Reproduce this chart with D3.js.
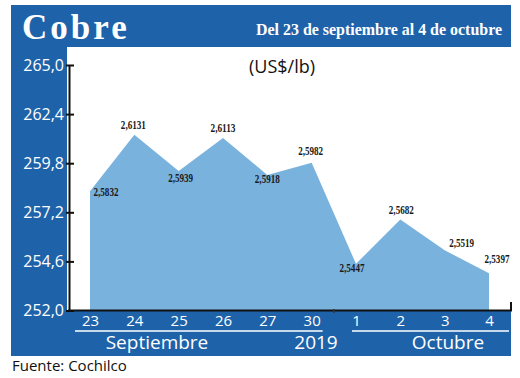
<!DOCTYPE html>
<html>
<head>
<meta charset="utf-8">
<script src="https://cdn.jsdelivr.net/npm/d3@7"></script>
<style>
	body { margin: 0; background: #fff; }
	svg { display: block; }
</style>
</head>
<body>
<svg id="chart" width="520" height="378"></svg>
<script>
// dias del periodo y precio del cobre (centavos US$/lb)
let days = ["23", "24", "25", "26", "27", "30", "1", "2", "3", "4"];
let prices = [258.32, 261.31, 259.39, 261.13, 259.18, 259.82, 254.47, 256.82, 255.19, 253.97];
let priceLabels = ["2,5832", "2,6131", "2,5939", "2,6113", "2,5918", "2,5982", "2,5447", "2,5682", "2,5519", "2,5397"];
let yTicks = [252.0, 254.6, 257.2, 259.8, 262.4, 265.0];

// desplazamiento de cada etiqueta respecto a su punto
let labelOffsets = [[16, 5], [-1, -6], [2, 11], [0, -6], [0, 8], [-1, -8], [-4, 8], [1, -5], [17, -3], [8, -10]];

const blue = "#1e63aa";
const areaColor = "#7ab2de";
const sans = "'Open Sans', 'Noto Sans', sans-serif";

let svg = d3.select("#chart");

// fondo azul y zona blanca del grafico
svg.append("rect").attr("x", 11).attr("y", 5).attr("width", 500).attr("height", 351).attr("fill", blue);
svg.append("rect").attr("x", 67).attr("y", 47).attr("width", 444).attr("height", 264).attr("fill", "#fff");

// titulos
svg.append("text")
	.attr("x", 22).attr("y", 39)
	.attr("fill", "#fff")
	.style("font-family", "'Liberation Serif', serif")
	.style("font-weight", "bold")
	.style("font-size", "35px")
	.style("letter-spacing", "3px")
	.text("Cobre");

svg.append("text")
	.attr("x", 256).attr("y", 35)
	.attr("fill", "#fff")
	.attr("textLength", 246)
	.attr("lengthAdjust", "spacingAndGlyphs")
	.style("font-family", "'Liberation Serif', serif")
	.style("font-weight", "bold")
	.style("font-size", "17px")
	.text("Del 23 de septiembre al 4 de octubre");

svg.append("text")
	.attr("x", 282).attr("y", 73)
	.attr("text-anchor", "middle")
	.attr("fill", "#111")
	.style("font-family", sans)
	.style("font-size", "18px")
	.text("(US$/lb)");

let xScale = d3.scalePoint().domain(days).range([90, 489]);
let yScale = d3.scaleLinear().domain([252, 265]).range([310.5, 65]);

let data = days.map((d, i) => ({ day: d, price: prices[i], label: priceLabels[i] }));

// area
let area = d3.area()
	.x((d) => xScale(d.day))
	.y0(yScale(252))
	.y1((d) => yScale(d.price));

svg.append("path")
	.datum(data)
	.attr("d", area)
	.attr("fill", areaColor);

// etiquetas de valores
svg.append("g")
	.selectAll("text")
	.data(data)
	.join("text")
	.attr("x", (d, i) => xScale(d.day) + labelOffsets[i][0])
	.attr("y", (d, i) => yScale(d.price) + labelOffsets[i][1])
	.attr("text-anchor", "middle")
	.attr("textLength", 25)
	.attr("lengthAdjust", "spacingAndGlyphs")
	.attr("fill", "#1a1a1a")
	.style("font-family", "'Liberation Serif', serif")
	.style("font-weight", "bold")
	.style("font-size", "12.5px")
	.text((d) => d.label);

// eje Y
let yAxis = svg.append("g")
	.attr("transform", "translate(69,0)")
	.call(d3.axisLeft(yScale)
		.tickValues(yTicks)
		.tickSizeInner(-5)
		.tickSizeOuter(0)
		.tickPadding(5)
		.tickFormat((d) => d3.format(".1f")(d).replace(".", ",")));
yAxis.select(".domain").attr("stroke", "#111").attr("stroke-width", 2);
yAxis.selectAll(".tick line").attr("x1", -3).attr("stroke", "#111").attr("stroke-width", 2);
yAxis.selectAll(".tick text")
	.attr("fill", "#fff")
	.style("font-family", sans)
	.style("font-size", "16px");

// eje X
let xAxisLine = svg.append("g");
xAxisLine.append("line")
	.attr("x1", 68).attr("x2", 512)
	.attr("y1", 310.5).attr("y2", 310.5)
	.attr("stroke", "#111").attr("stroke-width", 2);
xAxisLine.append("line")
	.attr("x1", 511).attr("x2", 511)
	.attr("y1", 302).attr("y2", 311)
	.attr("stroke", "#111").attr("stroke-width", 2);
xAxisLine.append("line")
	.attr("x1", (xScale("30") + xScale("1")) / 2).attr("x2", (xScale("30") + xScale("1")) / 2)
	.attr("y1", 309).attr("y2", 313)
	.attr("stroke", "#333").attr("stroke-width", 1.5);

let xAxis = svg.append("g")
	.attr("transform", "translate(0,310.5)")
	.call(d3.axisBottom(xScale).tickSize(0).tickPadding(5));
xAxis.select(".domain").remove();
xAxis.selectAll(".tick text")
	.attr("fill", "#fff")
	.style("font-family", sans)
	.style("font-size", "15px");

// meses
let months = svg.append("g");
months.append("line")
	.attr("x1", xScale("23") - 15).attr("x2", xScale("30") + 11)
	.attr("y1", 331).attr("y2", 331)
	.attr("stroke", "#fff").attr("stroke-width", 1.5);
months.append("line")
	.attr("x1", xScale("1") - 4).attr("x2", xScale("4") + 20)
	.attr("y1", 331).attr("y2", 331)
	.attr("stroke", "#fff").attr("stroke-width", 1.5);

[["Septiembre", 157], ["2019", 316], ["Octubre", 448]].forEach(([t, x]) => {
	months.append("text")
		.attr("x", x).attr("y", 349)
		.attr("text-anchor", "middle")
		.attr("fill", "#fff")
		.style("font-family", sans)
		.style("font-size", "19px")
		.text(t);
});

// fuente
svg.append("text")
	.attr("x", 12).attr("y", 371)
	.attr("fill", "#111")
	.style("font-family", sans)
	.style("font-size", "15px")
	.text("Fuente: Cochilco");
</script>
</body>
</html>
